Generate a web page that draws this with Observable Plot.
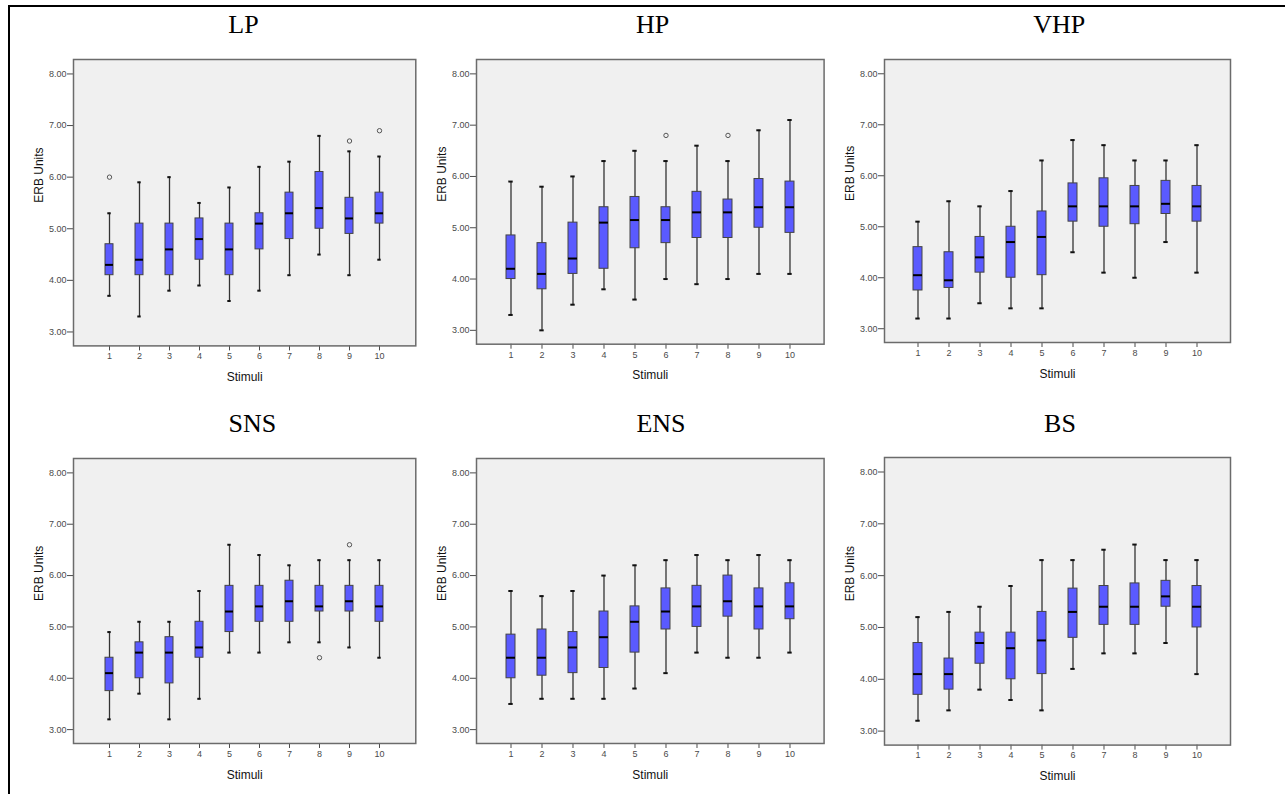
<!DOCTYPE html>
<html><head><meta charset="utf-8">
<script src="https://cdn.jsdelivr.net/npm/d3@7"></script>
<script src="https://cdn.jsdelivr.net/npm/@observablehq/plot@0.6"></script>
<style>
html,body{margin:0;padding:0;background:#fff;}
#root{position:relative;width:1285px;height:794px;overflow:hidden;background:#fff;}
.border{position:absolute;left:7.5px;top:5px;right:0;bottom:-10px;border-top:2px solid #000;border-left:2px solid #000;}
.title{position:absolute;font-family:"Liberation Serif","Times New Roman",serif;font-size:26px;line-height:26px;white-space:nowrap;transform:translateX(-50%);color:#000;}
</style></head><body><div id="root"><div class="border"></div></div>
<script>
// Categories
const stimuli = [1, 2, 3, 4, 5, 6, 7, 8, 9, 10];
const yTicks = [3, 4, 5, 6, 7, 8];

// Box statistics per stimulus: [lower whisker, Q1, median, Q3, upper whisker]
const LP = [[3.7,4.1,4.3,4.7,5.3],[3.3,4.1,4.4,5.1,5.9],[3.8,4.1,4.6,5.1,6.0],[3.9,4.4,4.8,5.2,5.5],[3.6,4.1,4.6,5.1,5.8],
            [3.8,4.6,5.1,5.3,6.2],[4.1,4.8,5.3,5.7,6.3],[4.5,5.0,5.4,6.1,6.8],[4.1,4.9,5.2,5.6,6.5],[4.4,5.1,5.3,5.7,6.4]];
const LP_out = [[1,6.0],[9,6.7],[10,6.9]];

const HP = [[3.3,4.0,4.2,4.85,5.9],[3.0,3.8,4.1,4.7,5.8],[3.5,4.1,4.4,5.1,6.0],[3.8,4.2,5.1,5.4,6.3],[3.6,4.6,5.15,5.6,6.5],
            [4.0,4.7,5.15,5.4,6.3],[3.9,4.8,5.3,5.7,6.6],[4.0,4.8,5.3,5.55,6.3],[4.1,5.0,5.4,5.95,6.9],[4.1,4.9,5.4,5.9,7.1]];
const HP_out = [[6,6.8],[8,6.8]];

const VHP = [[3.2,3.75,4.05,4.6,5.1],[3.2,3.8,3.95,4.5,5.5],[3.5,4.1,4.4,4.8,5.4],[3.4,4.0,4.7,5.0,5.7],[3.4,4.05,4.8,5.3,6.3],
             [4.5,5.1,5.4,5.85,6.7],[4.1,5.0,5.4,5.95,6.6],[4.0,5.05,5.4,5.8,6.3],[4.7,5.25,5.45,5.9,6.3],[4.1,5.1,5.4,5.8,6.6]];
const VHP_out = [];

const SNS = [[3.2,3.75,4.1,4.4,4.9],[3.7,4.0,4.5,4.7,5.1],[3.2,3.9,4.5,4.8,5.1],[3.6,4.4,4.6,5.1,5.7],[4.5,4.9,5.3,5.8,6.6],
             [4.5,5.1,5.4,5.8,6.4],[4.7,5.1,5.5,5.9,6.2],[4.7,5.3,5.4,5.8,6.3],[4.6,5.3,5.5,5.8,6.3],[4.4,5.1,5.4,5.8,6.3]];
const SNS_out = [[8,4.4],[9,6.6]];

const ENS = [[3.5,4.0,4.4,4.85,5.7],[3.6,4.05,4.4,4.95,5.6],[3.6,4.1,4.6,4.9,5.7],[3.6,4.2,4.8,5.3,6.0],[3.8,4.5,5.1,5.4,6.2],
             [4.1,4.95,5.3,5.75,6.3],[4.5,5.0,5.4,5.8,6.4],[4.4,5.2,5.5,6.0,6.3],[4.4,4.95,5.4,5.75,6.4],[4.5,5.15,5.4,5.85,6.3]];
const ENS_out = [];

const BS = [[3.2,3.7,4.1,4.7,5.2],[3.4,3.8,4.1,4.4,5.3],[3.8,4.3,4.7,4.9,5.4],[3.6,4.0,4.6,4.9,5.8],[3.4,4.1,4.75,5.3,6.3],
            [4.2,4.8,5.3,5.75,6.3],[4.5,5.05,5.4,5.8,6.5],[4.5,5.05,5.4,5.85,6.6],[4.7,5.4,5.6,5.9,6.3],[4.1,5.0,5.4,5.8,6.3]];
const BS_out = [];

const titles = ["LP", "HP", "VHP", "SNS", "ENS", "BS"];
const statsList = [LP, HP, VHP, SNS, ENS, BS];
const outList = [LP_out, HP_out, VHP_out, SNS_out, ENS_out, BS_out];

// Layout (frame position/size in page pixels, title center & baseline)
const layout = [
  {fx:72.7,  fy:59.3,  fw:342.3, fh:286.4, tx:243.5,  tb:33.3},
  {fx:475.7, fy:59.3,  fw:347.6, fh:284.7, tx:652.7,  tb:33.3},
  {fx:884.3, fy:59.3,  fw:346.0, fh:283.0, tx:1059.3, tb:33.3},
  {fx:72.7,  fy:458.3, fw:342.3, fh:285.0, tx:252.3,  tb:432.7},
  {fx:475.7, fy:458.3, fw:347.6, fh:285.0, tx:661.0,  tb:432.7},
  {fx:884.3, fy:456.7, fw:346.0, fh:287.6, tx:1060.0, tb:432.7}
];

const root = document.getElementById("root");
const mL = 80, mR = 10, mT = 10, mB = 50;

titles.forEach((name, k) => {
  const L = layout[k];
  const rows = statsList[k].map((d, i) => ({s: stimuli[i], lo: d[0], q1: d[1], med: d[2], q3: d[3], hi: d[4]}));
  const outs = outList[k].map(([s, v]) => ({s, v}));
  const svg = Plot.plot({
    width: L.fw + mL + mR,
    height: L.fh + mT + mB,
    marginLeft: mL, marginRight: mR, marginTop: mT, marginBottom: mB,
    style: {fontFamily: '"Liberation Sans", Arial, sans-serif', background: "transparent", color: "#4a4a4a", overflow: "visible"},
    x: {type: "band", domain: stimuli, paddingInner: 0.72, paddingOuter: 0.93},
    y: {domain: [2.73, 8.28]},
    marks: [
      Plot.frame({fill: "#f0f0f0"}),
      Plot.axisY({ticks: yTicks, tickFormat: d => d.toFixed(2), tickSize: 6, tickPadding: 1, fontSize: 9, label: null}),
      Plot.axisX({tickSize: 5, tickPadding: 2, fontSize: 9, label: null}),
      Plot.ruleX(rows, {x: "s", y1: "lo", y2: "hi", stroke: "#333", strokeWidth: 1.3}),
      Plot.tickY(rows, {x: "s", y: "hi", stroke: "#111", strokeWidth: 2, insetLeft: 2.3, insetRight: 2.3}),
      Plot.tickY(rows, {x: "s", y: "lo", stroke: "#111", strokeWidth: 2, insetLeft: 2.3, insetRight: 2.3}),
      Plot.barY(rows, {x: "s", y1: "q1", y2: "q3", fill: "#5a5aff", stroke: "#444", strokeWidth: 1}),
      Plot.tickY(rows, {x: "s", y: "med", stroke: "#000", strokeWidth: 2}),
      Plot.dot(outs, {x: "s", y: "v", r: 2.2, stroke: "#555", strokeWidth: 1, fill: "none"}),
      Plot.frame({stroke: "#6b6b6b", strokeWidth: 1.5}),
      Plot.text(["ERB Units"], {frameAnchor: "left", dx: -34, rotate: -90, fontSize: 12, fill: "#111", text: d => d}),
      Plot.text(["Stimuli"], {frameAnchor: "bottom", dy: 31.3, lineAnchor: "middle", fontSize: 12, fill: "#111", text: d => d})
    ]
  });
  svg.style.position = "absolute";
  svg.style.left = (L.fx - mL) + "px";
  svg.style.top = (L.fy - mT) + "px";
  root.appendChild(svg);

  const t = document.createElement("div");
  t.className = "title";
  t.textContent = name;
  t.style.left = L.tx + "px";
  t.style.top = (L.tb - 21.8) + "px";
  root.appendChild(t);
});
</script></body></html>
